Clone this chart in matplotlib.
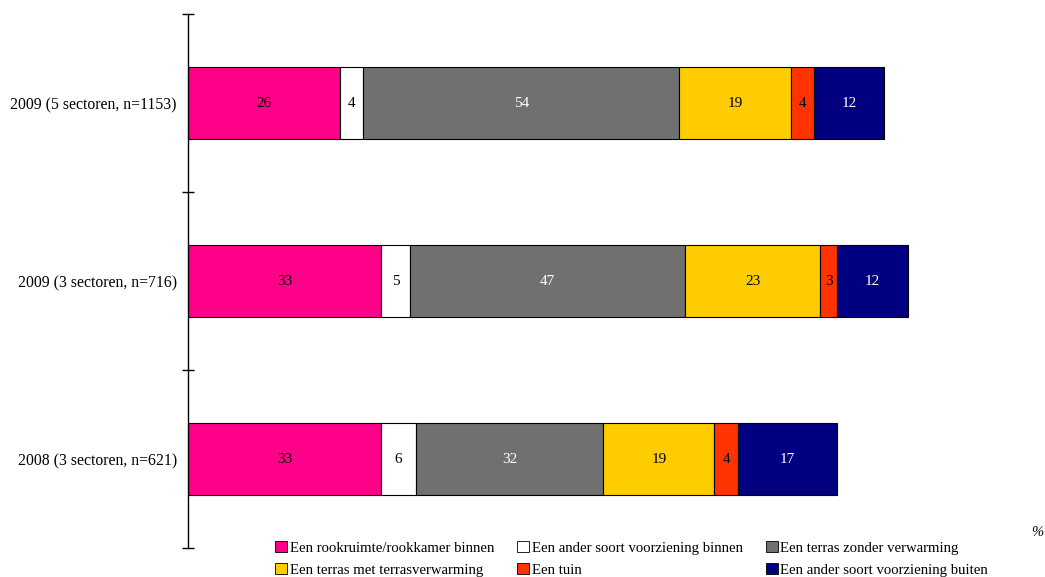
import matplotlib.pyplot as plt
from matplotlib.patches import Patch

plt.rcParams['font.family'] = ['Liberation Serif', 'DejaVu Serif']

groups = ["2009 (5 sectoren, n=1153)", "2009 (3 sectoren, n=716)", "2008 (3 sectoren, n=621)"]
series = [
    "Een rookruimte/rookkamer binnen",
    "Een ander soort voorziening binnen",
    "Een terras zonder verwarming",
    "Een terras met terrasverwarming",
    "Een tuin",
    "Een ander soort voorziening buiten",
]
rookruimte = [26, 33, 33]
ander_binnen = [4, 5, 6]
terras_zonder = [54, 47, 32]
terras_met = [19, 23, 19]
tuin = [4, 3, 4]
ander_buiten = [12, 12, 17]

values = [rookruimte, ander_binnen, terras_zonder, terras_met, tuin, ander_buiten]
colors = ["#FF0088", "#FFFFFF", "#707070", "#FFCC00", "#FF3300", "#000080"]
text_colors = ["black", "black", "white", "black", "black", "white"]

fig = plt.figure(figsize=(10.45, 5.77), dpi=100)
ax = fig.add_axes([188 / 1045, 1 - 548 / 577, 850 / 1045, 534 / 577])

ypos = [0, 1, 2]
left = [0, 0, 0]
for vals, col, tc in zip(values, colors, text_colors):
    ax.barh(ypos, vals, left=left, height=0.4, color=col, edgecolor="black", linewidth=0.8)
    for y, v, l in zip(ypos, vals, left):
        ax.text(l + v / 2, y, str(v), ha="center", va="center", color=tc, fontsize=11)
    left = [a + b for a, b in zip(left, vals)]

ax.set_xlim(0, 145.3)
ax.set_ylim(2.5, -0.5)
ax.set_yticks([-0.5, 0.5, 1.5, 2.5])
ax.set_yticklabels([])
ax.set_yticks(ypos, minor=True)
ax.set_yticklabels(groups, minor=True, fontsize=11.3)
ax.tick_params(axis="y", which="major", direction="inout", length=8, width=1)
ax.tick_params(axis="y", which="minor", length=0, pad=8)
ax.set_xticks([])
for s in ["top", "right", "bottom"]:
    ax.spines[s].set_visible(False)
ax.spines["left"].set_linewidth(1)

handles = [Patch(facecolor=c, edgecolor="black", linewidth=0.6) for c in colors]
order = [0, 3, 1, 4, 2, 5]
fig.legend([handles[i] for i in order], [series[i] for i in order],
           ncol=3, loc="lower left", bbox_to_anchor=(265 / 1045, -0.017),
           frameon=False, fontsize=10.6, handlelength=0.8, handleheight=0.8,
           handletextpad=0.2, columnspacing=1.55, labelspacing=0.55, borderpad=0.2)

fig.text(1037 / 1045, 1 - 533 / 577, "%", ha="center", va="center", fontsize=10.5, style="italic")

fig.savefig("out.png", dpi=100)
